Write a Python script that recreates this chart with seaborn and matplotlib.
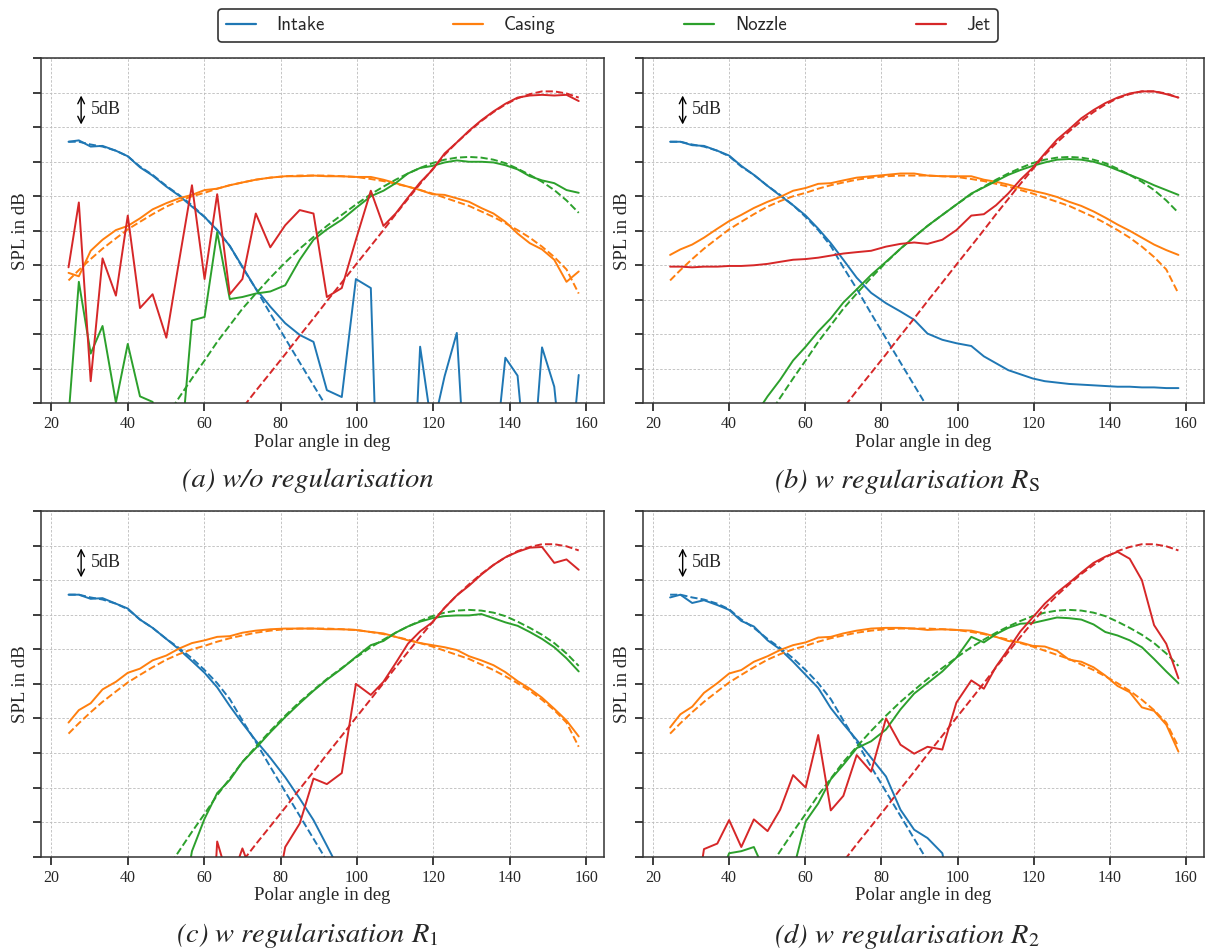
import numpy as np
import pandas as pd
import seaborn as sns
from matplotlib import pyplot as plt
from matplotlib.lines import Line2D

# DATA (SPL in dB; values < 40 lie below the axis)

theta = [24.5, 27.2, 30.3, 33.4, 36.9, 40.0, 43.2, 46.5, 50.1, 53.4, 56.8, 60.1, 63.4, 66.7,
         70.0, 73.5, 77.3, 81.2, 85.0, 88.6, 92.1, 96.0, 99.7, 103.6, 106.9, 110.1, 113.3,
         116.5, 119.7, 122.9, 126.1, 129.3, 132.5, 135.7, 138.8, 142.0, 145.2, 148.4, 151.6,
         154.8, 158.0]

sources = ['Intake', 'Casing', 'Nozzle', 'Jet']

# true source directivities (dashed)
intake_true = [77.9, 77.9, 77.5, 77.2, 76.6, 75.8, 74.3, 73.1, 71.5, 70.2, 68.7, 67.0, 65.1, 62.8,
               59.7, 56.6, 53.0, 49.4, 45.9, 42.6, 39.4, 35.0, 31.0, 27.0, 23.0, 19.0, 15.0,
               11.0, 10.0, 10.0, 10.0, 10.0, 10.0, 10.0, 10.0, 10.0, 10.0, 10.0, 10.0, 10.0, 10.0]
casing_true = [57.8, 59.3, 60.9, 62.4, 63.9, 65.2, 66.3, 67.4, 68.5, 69.3, 70.0, 70.5, 71.1, 71.6,
               72.0, 72.4, 72.7, 72.9, 73.0, 73.0, 73.0, 72.9, 72.8, 72.5, 72.2, 71.8, 71.4,
               70.9, 70.4, 69.8, 69.2, 68.6, 67.8, 67.0, 66.1, 65.1, 64.0, 62.7, 61.2, 59.4, 55.9]
nozzle_true = [10.0, 10.0, 10.0, 10.0, 10.0, 10.0, 14.0, 26.0, 38.0, 40.8, 43.6, 46.2, 48.9, 51.3,
               53.7, 55.9, 58.2, 60.4, 62.4, 64.1, 65.7, 67.3, 68.8, 70.3, 71.4, 72.4, 73.3,
               74.1, 74.8, 75.3, 75.6, 75.7, 75.6, 75.3, 74.8, 74.0, 73.1, 72.1, 70.9, 69.4, 67.6]
jet_true = [10.0, 10.0, 10.0, 10.0, 10.0, 10.0, 10.0, 10.0, 10.0, 10.0, 10.0, 10.0, 34.7, 37.0,
            39.3, 41.8, 44.4, 47.1, 49.8, 52.3, 54.8, 57.5, 60.1, 62.8, 65.1, 67.4, 69.6,
            71.8, 73.9, 76.0, 77.8, 79.4, 80.9, 82.2, 83.3, 84.2, 84.8, 85.2, 85.2, 84.9, 84.3]

# (a) w/o regularisation
a_intake = [77.9, 78.1, 77.2, 77.3, 76.6, 75.8, 74.2, 73.0, 71.4, 70.1, 68.5, 67.0, 65.1, 62.8,
            59.8, 56.6, 54.0, 51.6, 49.9, 48.9, 41.9, 40.9, 58.0, 56.7, 0.0, 10.0, 10.0,
            48.2, 36.0, 43.9, 50.2, 20.0, 10.0, 30.0, 46.6, 44.0, 25.0, 48.1, 42.4, 25.0, 44.1]
a_casing = [58.9, 58.4, 62.1, 63.7, 65.1, 65.7, 66.8, 68.1, 69.0, 69.7, 70.2, 70.9, 71.1, 71.6,
            72.0, 72.4, 72.7, 72.9, 72.9, 73.0, 72.9, 72.9, 72.8, 72.8, 72.4, 71.9, 71.4,
            70.9, 70.3, 70.2, 69.7, 69.2, 68.3, 67.5, 66.3, 64.6, 63.2, 62.3, 60.8, 57.6, 59.1]
a_nozzle = [38.0, 57.6, 47.2, 51.2, 40.1, 48.6, 41.0, 40.2, 30.0, 30.0, 52.0, 52.5, 64.8, 55.1,
            55.4, 55.9, 56.2, 57.1, 60.8, 63.7, 65.2, 66.6, 68.3, 70.0, 70.8, 71.9, 73.3,
            74.1, 74.4, 74.9, 75.2, 75.0, 75.0, 74.9, 74.5, 73.9, 72.9, 72.3, 71.9, 70.9, 70.5]
a_jet = [59.7, 69.1, 43.2, 61.0, 55.6, 67.2, 53.8, 55.8, 49.5, 60.5, 71.6, 58.0, 70.3, 55.8,
         58.0, 67.5, 62.6, 65.8, 68.0, 67.5, 55.4, 56.7, 63.7, 70.8, 65.7, 67.5, 69.8,
         72.0, 73.8, 76.2, 77.8, 79.5, 81.0, 82.3, 83.4, 84.3, 84.6, 84.7, 84.6, 84.7, 83.8]

# (b) w regularisation R_S
b_intake = [77.9, 77.9, 77.4, 77.3, 76.6, 75.9, 74.4, 73.1, 71.5, 70.1, 68.7, 67.2, 65.3, 63.2,
            60.8, 58.2, 56.0, 54.5, 53.3, 52.1, 50.1, 49.2, 48.7, 48.3, 46.8, 45.8, 44.8,
            44.2, 43.6, 43.2, 43.0, 42.8, 42.7, 42.6, 42.5, 42.4, 42.4, 42.3, 42.3, 42.2, 42.2]
b_casing = [61.5, 62.3, 63.0, 64.0, 65.3, 66.4, 67.3, 68.3, 69.2, 69.9, 70.8, 71.2, 71.8, 71.9,
            72.3, 72.7, 72.9, 73.1, 73.3, 73.3, 73.0, 72.9, 72.9, 72.9, 72.4, 72.1, 71.7,
            71.2, 70.8, 70.4, 69.9, 69.2, 68.6, 67.8, 66.9, 65.9, 65.0, 64.0, 63.0, 62.2, 61.5]
b_nozzle = [10.0, 10.0, 10.0, 10.0, 10.0, 10.0, 20.0, 38.0, 41.0, 43.4, 46.2, 48.2, 50.4, 52.3,
            54.6, 56.5, 58.6, 60.5, 62.4, 64.1, 65.7, 67.3, 68.8, 70.4, 71.3, 72.2, 73.1,
            73.8, 74.4, 74.9, 75.3, 75.4, 75.3, 75.0, 74.5, 73.8, 73.1, 72.4, 71.6, 70.9, 70.2]
b_jet = [59.8, 59.8, 59.7, 59.8, 59.8, 59.9, 59.9, 60.0, 60.2, 60.5, 60.8, 60.9, 61.1, 61.4,
         61.7, 61.9, 62.1, 62.7, 63.1, 63.3, 63.1, 63.7, 65.1, 67.2, 67.4, 68.7, 70.4,
         72.4, 74.1, 76.2, 78.2, 79.7, 81.3, 82.5, 83.5, 84.3, 84.9, 85.2, 85.2, 84.8, 84.3]

# (c) w regularisation R_1
c_intake = [77.9, 77.9, 77.3, 77.4, 76.6, 75.9, 74.3, 73.1, 71.5, 70.0, 68.3, 66.6, 64.5, 61.8,
            59.3, 56.8, 54.3, 51.5, 48.4, 45.3, 41.6, 37.4, 33.0, 20.0, 10.0, 10.0, 10.0,
            10.0, 10.0, 10.0, 10.0, 10.0, 10.0, 10.0, 10.0, 10.0, 10.0, 10.0, 10.0, 10.0, 10.0]
c_casing = [59.4, 61.2, 62.2, 64.2, 65.3, 66.6, 67.2, 68.4, 69.1, 70.1, 70.9, 71.3, 71.8, 71.9,
            72.4, 72.7, 72.9, 73.0, 73.0, 73.0, 72.9, 72.9, 72.8, 72.5, 72.3, 71.8, 71.3,
            70.9, 70.6, 70.3, 69.9, 69.0, 68.4, 67.7, 66.7, 65.4, 64.3, 63.0, 61.4, 59.7, 57.4]
c_nozzle = [10.0, 10.0, 10.0, 10.0, 10.0, 10.0, 10.0, 10.0, 20.0, 30.0, 40.8, 45.5, 49.2, 51.1,
            53.7, 55.7, 58.0, 60.2, 62.2, 64.0, 65.6, 67.2, 68.9, 70.6, 71.2, 72.4, 73.3,
            74.0, 74.5, 74.8, 74.9, 74.9, 75.1, 74.5, 73.9, 73.4, 72.5, 71.5, 70.3, 68.7, 66.8]
c_jet = [10.0, 10.0, 10.0, 10.0, 10.0, 10.0, 10.0, 10.0, 10.0, 10.0, 10.0, 10.0, 42.2, 36.0,
         41.2, 36.0, 30.0, 41.4, 44.8, 51.3, 50.5, 52.1, 65.0, 63.4, 65.3, 68.0, 70.8,
         72.6, 73.9, 76.0, 77.8, 79.2, 80.8, 82.2, 83.3, 84.1, 84.7, 84.8, 82.5, 83.0, 81.5]

# (d) w regularisation R_2
d_intake = [77.5, 77.9, 76.7, 77.1, 76.4, 75.7, 74.1, 73.3, 71.3, 70.0, 68.2, 66.3, 64.4, 61.5,
            59.2, 56.9, 54.3, 51.6, 46.8, 43.9, 42.7, 40.5, 30.0, 10.0, 10.0, 10.0, 10.0,
            10.0, 10.0, 10.0, 10.0, 10.0, 10.0, 10.0, 10.0, 10.0, 10.0, 10.0, 10.0, 10.0, 10.0]
d_casing = [58.7, 60.6, 61.7, 63.7, 65.1, 66.5, 67.0, 68.2, 69.0, 69.9, 70.6, 71.0, 71.7, 71.8,
            72.3, 72.7, 73.0, 73.1, 73.1, 73.0, 72.8, 72.9, 72.8, 72.7, 72.3, 71.8, 71.2,
            71.0, 70.5, 70.4, 69.8, 68.5, 68.2, 67.4, 66.2, 64.7, 63.8, 61.6, 61.1, 59.1, 55.2]
d_nozzle = [10.0, 10.0, 10.0, 10.0, 36.0, 40.5, 40.8, 41.4, 37.0, 30.0, 38.0, 45.1, 47.7, 51.2,
            53.3, 55.7, 56.7, 58.4, 61.3, 63.6, 65.1, 66.8, 68.8, 71.8, 71.0, 72.2, 73.1,
            73.7, 73.8, 74.2, 74.6, 74.5, 74.3, 73.6, 72.5, 72.0, 71.3, 70.3, 68.6, 66.8, 65.1]
d_jet = [10.0, 10.0, 30.0, 41.1, 41.9, 45.3, 41.4, 45.4, 43.7, 46.8, 51.8, 50.0, 57.6, 46.7,
         48.8, 54.7, 52.3, 60.0, 56.2, 54.9, 55.9, 55.5, 62.3, 65.5, 64.3, 67.5, 70.0,
         72.6, 74.6, 76.6, 78.2, 79.6, 81.1, 82.5, 83.4, 84.1, 83.1, 80.0, 73.5, 70.8, 65.8]

captions = ['(a) w/o regularisation', r'(b) w regularisation $R_\mathrm{S}$',
            r'(c) w regularisation $R_1$', r'(d) w regularisation $R_2$']

# STYLE

sns.set_theme(style='ticks')
plt.rcParams['font.family'] = ['Liberation Serif', 'DejaVu Serif']
plt.rcParams['mathtext.fontset'] = 'stix'
colors = sns.color_palette('tab10', 4)

true_curves = [intake_true, casing_true, nozzle_true, jet_true]
estimates = [
    [a_intake, a_casing, a_nozzle, a_jet],
    [b_intake, b_casing, b_nozzle, b_jet],
    [c_intake, c_casing, c_nozzle, c_jet],
    [d_intake, d_casing, d_nozzle, d_jet],
]

fig = plt.figure(figsize=(12.06, 9.52), dpi=100)

# axes boxes in figure fractions
boxes = [
    [0.0340, 0.5764, 0.4671, 0.3624],
    [0.5329, 0.5764, 0.4654, 0.3624],
    [0.0340, 0.1001, 0.4671, 0.3631],
    [0.5329, 0.1001, 0.4654, 0.3631],
]
caption_pos = [(0.255, 0.495), (0.752, 0.495), (0.255, 0.017), (0.752, 0.017)]

for i in range(4):
    ax = fig.add_axes(boxes[i])
    for k in range(4):
        sns.lineplot(x=theta, y=estimates[i][k], ax=ax, color=colors[k], lw=1.4, legend=False)
        sns.lineplot(x=theta, y=true_curves[k], ax=ax, color=colors[k], lw=1.4,
                     linestyle='--', legend=False)
    ax.set_xlim(17.3, 164.7)
    ax.set_ylim(40, 90)
    ax.set_xticks(range(20, 161, 20))
    ax.set_yticks(range(40, 91, 5))
    ax.tick_params(axis='y', labelleft=False)
    ax.tick_params(axis='x', labelsize=11.5)
    ax.set_axisbelow(True)
    ax.grid(True, linestyle=(0, (3, 2)), linewidth=0.6, color='#bcbcbc')
    for s in ax.spines.values():
        s.set_color('0.2')
        s.set_linewidth(1.1)
    ax.set_xlabel('Polar angle in deg', fontsize=13.5, labelpad=1)
    ax.set_ylabel('SPL in dB', fontsize=13.5)
    ax.yaxis.set_label_coords(-0.021, 0.5)

    # 5 dB scale marker
    ax.annotate('', xy=(27.8, 80.4), xytext=(27.8, 84.6),
                arrowprops=dict(arrowstyle='<->', lw=1.0, color='black', shrinkA=0, shrinkB=0))
    ax.text(30.3, 82.6, '5dB', va='center', ha='left', fontsize=13)

    fig.text(caption_pos[i][0], caption_pos[i][1], captions[i], ha='center', va='center',
             fontsize=20.5, fontstyle='italic', family='STIXGeneral')

handles = [Line2D([], [], color=colors[k], lw=1.6) for k in range(4)]
leg = fig.legend(handles, sources, loc='lower left',
                 bbox_to_anchor=(218 / 1206, 1 - 42 / 952, 780 / 1206, 37 / 952),
                 mode='expand', ncol=4, borderaxespad=0, frameon=True, fancybox=True,
                 handlelength=1.6, handletextpad=1.1,
                 prop={'family': 'cmss10', 'size': 13.5})
leg.get_frame().set_edgecolor('0.2')
leg.get_frame().set_linewidth(1.2)
leg.get_frame().set_alpha(1)

plt.savefig('out.png', dpi=100)
